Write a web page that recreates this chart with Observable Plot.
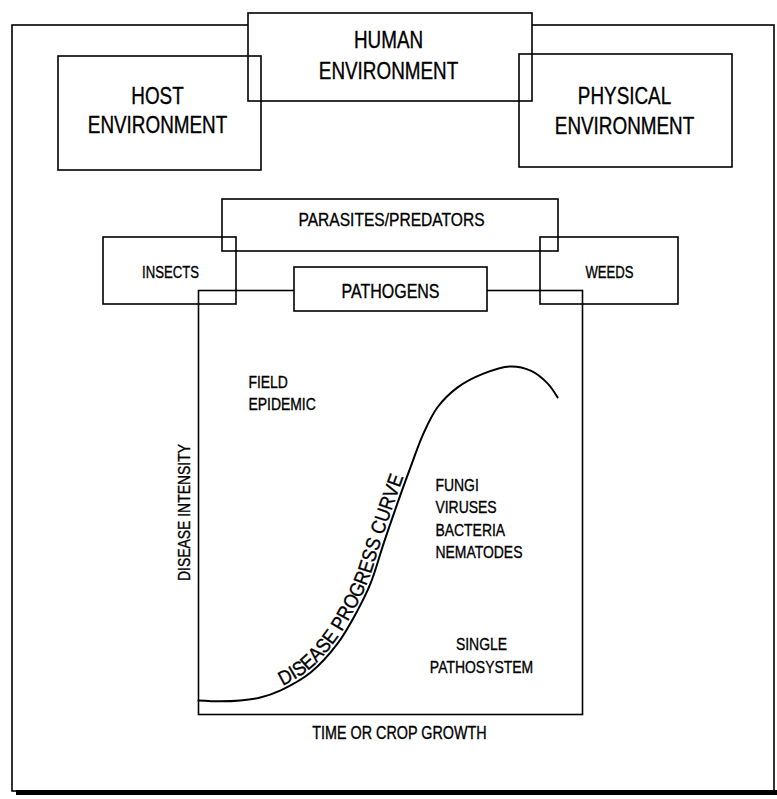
<!DOCTYPE html>
<html><head><meta charset="utf-8">
<script src="https://cdn.jsdelivr.net/npm/d3@7"></script>
<script src="https://cdn.jsdelivr.net/npm/@observablehq/plot@0.6"></script>
<style>
html,body{margin:0;padding:0;background:#fff;}
#wrap{position:relative;width:777px;height:799px;}
#wrap svg{position:absolute;left:0;top:0;}
#wrap svg text{stroke:black;stroke-width:0.35px;}
</style></head><body><div id="wrap"></div>
<script>
const FONT = '"Liberation Sans Narrow","Arial Narrow","Liberation Sans",Arial,sans-serif';
const CONDENSE = 0.82; // the original lettering is a condensed grotesque

// ---- Disease progress curve (time or crop growth 0–100 vs disease intensity 0–100)
const curveTime      = [0, 5.7, 10.9, 16.1, 21.4, 29.2, 36.2, 41.4, 44.8, 48.2, 51.8, 55.2, 58.6, 62.2, 67.4, 74.2, 81.3, 86.5, 90.9, 93.5];
const curveIntensity = [3.3, 3.1, 3.3, 4.0, 5.7, 9.9, 16.7, 24.5, 30.9, 40.3, 49.8, 58.3, 66.3, 72.4, 77.1, 80.4, 82.1, 81.1, 78.1, 74.8];
const curveLabel = "DISEASE PROGRESS CURVE";
const xAxisLabel = "TIME OR CROP GROWTH";
const yAxisLabel = "DISEASE INTENSITY";

// ---- Notes inside the chart (in time / intensity units)
const noteText   = ["FIELD", "EPIDEMIC", "FUNGI", "VIRUSES", "BACTERIA", "NEMATODES", "SINGLE", "PATHOSYSTEM"];
const noteTime   = [13, 13, 61.7, 61.7, 61.7, 61.7, 73.7, 73.7];
const noteLevel  = [77.1, 71.9, 52.8, 47.6, 42.2, 37.0, 15.1, 9.9];
const noteAnchor = ["start", "start", "start", "start", "start", "start", "middle", "middle"];

// ---- Surrounding diagram boxes
const boxNames = ["HUMAN ENVIRONMENT", "HOST ENVIRONMENT", "PHYSICAL ENVIRONMENT", "PARASITES/PREDATORS", "INSECTS", "WEEDS", "PATHOGENS"];
const boxX1 = [248, 58, 519, 222, 103, 540, 294];
const boxX2 = [532, 261, 732, 558, 236, 678, 487];
const boxY1 = [13, 56, 54, 199, 237, 237, 267];
const boxY2 = [101, 170, 167, 251, 304, 304, 311];
const boxFilled = [true, false, false, false, false, false, true];

// Labels of the boxes (one entry per text line)
const boxLineText = ["HUMAN", "ENVIRONMENT", "HOST", "ENVIRONMENT", "PHYSICAL", "ENVIRONMENT", "PARASITES/PREDATORS", "INSECTS", "WEEDS", "PATHOGENS"];
const boxLineX    = [388, 388, 157, 157, 624, 624, 391, 170, 609, 390];
const boxLineY    = [47, 78, 103, 132, 103, 133, 225, 277, 277, 297];
const boxLineSize = [23, 23, 23, 23, 23, 23, 19, 16, 16, 19.5];

const outer = {x1: 12, x2: 774, y1: 25, y2: 791};
const shadow = {x1: 16, x2: 777, y1: 790, y2: 795};
const chartBox = {left: 198, right: 582, top: 290, bottom: 714};

// ---------- build tables
const curve = curveTime.map((t, i) => ({t, v: curveIntensity[i]}));
const notes = noteText.map((text, i) => ({text, t: noteTime[i], v: noteLevel[i], anchor: noteAnchor[i]}));
const boxes = boxNames.map((name, i) => ({name, x1: boxX1[i], x2: boxX2[i], y1: boxY1[i], y2: boxY2[i], filled: boxFilled[i]}));
const lines = boxLineText.map((text, i) => ({text, x: boxLineX[i], y: boxLineY[i], size: boxLineSize[i]}));

const W = 777, H = 799;

// Inner chart (bottom layer)
const inner = Plot.plot({
  width: W, height: H,
  marginLeft: chartBox.left, marginRight: W - chartBox.right,
  marginTop: chartBox.top, marginBottom: H - chartBox.bottom,
  x: {domain: [0, 100], axis: null},
  y: {domain: [0, 100], axis: null},
  style: {background: "white", fontFamily: FONT},
  marks: [
    Plot.frame({stroke: "black", strokeWidth: 1.6}),
    Plot.line(curve, {x: "t", y: "v", curve: "catmull-rom", stroke: "black", strokeWidth: 2}),
    Plot.text(notes.filter(d => d.anchor === "start"), {x: "t", y: "v", text: "text", textAnchor: "start", lineAnchor: "bottom", fontSize: 17, fill: "black"}),
    Plot.text(notes.filter(d => d.anchor === "middle"), {x: "t", y: "v", text: "text", textAnchor: "middle", lineAnchor: "bottom", fontSize: 17, fill: "black"}),
    Plot.text([xAxisLabel], {frameAnchor: "bottom", text: d => d, textAnchor: "middle", lineAnchor: "bottom", dx: 9, dy: 24, fontSize: 17.5, fill: "black"}),
    Plot.text([yAxisLabel], {frameAnchor: "left", text: d => d, rotate: -90, textAnchor: "middle", lineAnchor: "bottom", dx: -9, dy: 10, fontSize: 17, fill: "black"})
  ]
});

// Diagram (top layer, transparent)
const diagram = Plot.plot({
  width: W, height: H, margin: 0,
  x: {domain: [0, W], range: [0, W], axis: null},
  y: {domain: [0, H], range: [0, H], axis: null},
  style: {background: "transparent", fontFamily: FONT},
  marks: [
    Plot.rect([outer], {x1: "x1", x2: "x2", y1: "y1", y2: "y2", fill: "none", stroke: "black", strokeWidth: 1.6}),
    Plot.rect([shadow], {x1: "x1", x2: "x2", y1: "y1", y2: "y2", fill: "black"}),
    Plot.rect(boxes.filter(d => d.name === "HUMAN ENVIRONMENT"), {x1: "x1", x2: "x2", y1: "y1", y2: "y2", fill: "white", stroke: "black", strokeWidth: 1.6}),
    Plot.rect(boxes.filter(d => !d.filled), {x1: "x1", x2: "x2", y1: "y1", y2: "y2", fill: "none", stroke: "black", strokeWidth: 1.6}),
    Plot.rect(boxes.filter(d => d.name === "PATHOGENS"), {x1: "x1", x2: "x2", y1: "y1", y2: "y2", fill: "white", stroke: "black", strokeWidth: 1.6}),
    Plot.text(lines, {x: "x", y: "y", text: "text", fontSize: "size", textAnchor: "middle", lineAnchor: "bottom", fill: "black"})
  ]
});
diagram.style.pointerEvents = "none";

const wrap = document.getElementById("wrap");
wrap.appendChild(inner);
wrap.appendChild(diagram);

// Text along the disease progress curve
d3.select(inner).select('g[aria-label="line"] path').attr("id", "dpc-path");
d3.select(inner).append("text")
  .attr("class", "curve-label")
  .attr("font-family", FONT).attr("font-size", 20).attr("dy", -2.5).attr("fill", "black")
  .attr("text-anchor", "start")
  .append("textPath").attr("href", "#dpc-path").attr("startOffset", 88)
  .attr("textLength", 250).attr("lengthAdjust", "spacingAndGlyphs")
  .text(curveLabel);

// Condense the lettering horizontally to imitate the narrow typeface
function condense(svg, f) {
  svg.querySelectorAll("text").forEach(t => {
    if (t.querySelector("textPath")) return;
    const L = t.getComputedTextLength();
    if (L > 0) {
      t.setAttribute("textLength", (L * f).toFixed(1));
      t.setAttribute("lengthAdjust", "spacingAndGlyphs");
    }
  });
}
condense(inner, CONDENSE);
condense(diagram, CONDENSE);
</script>
</body></html>
